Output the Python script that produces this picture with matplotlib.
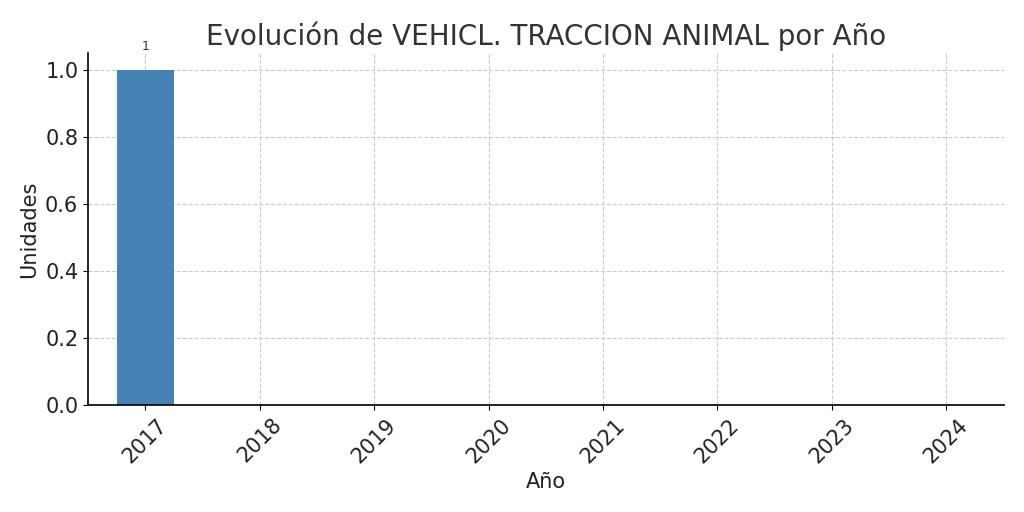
import matplotlib
matplotlib.use("Agg")
import matplotlib.pyplot as plt

years = ["2017", "2018", "2019", "2020", "2021", "2022", "2023", "2024"]
values = [1, 0, 0, 0, 0, 0, 0, 0]

plt.rcParams['font.family'] = ['DejaVu Sans']
fig = plt.figure(figsize=(10.24, 5.12), dpi=100)
ax = fig.add_axes([0.086, 0.209, 0.894, 0.687])

x = range(len(years))
bars = ax.bar(x, values, width=0.5, color="#4682B4", zorder=2)
for xi, v in zip(x, values):
    if v > 0:
        ax.text(xi, v + 0.05, f"{v}", ha="center", va="bottom", fontsize=9, color="#333333")

ax.set_xticks(list(x))
ax.set_xticklabels(years, rotation=45, fontsize=15, color="#222222")
ax.tick_params(axis="y", labelsize=15, labelcolor="#222222")
ax.set_xlim(-0.5, 7.5)
ax.set_ylim(0, 1.05)
ax.set_yticks([0.0, 0.2, 0.4, 0.6, 0.8, 1.0])
ax.grid(True, linestyle="--", color="#cccccc", linewidth=0.8, zorder=0)
ax.set_axisbelow(True)
for s in ["top", "right"]:
    ax.spines[s].set_visible(False)
ax.spines["left"].set_linewidth(1.2)
ax.spines["bottom"].set_linewidth(1.2)
ax.set_title("Evolución de VEHICL. TRACCION ANIMAL por Año", fontsize=20, color="#333333")
ax.set_xlabel("Año", fontsize=15, color="#222222")
ax.set_ylabel("Unidades", fontsize=15, color="#222222")

fig.savefig("out.png", dpi=100)
